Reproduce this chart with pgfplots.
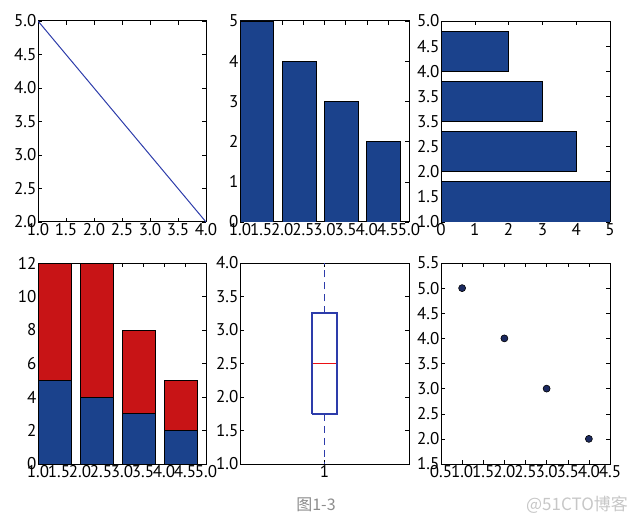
\documentclass[border=0pt]{standalone}
\usepackage{pgfplots}
\pgfplotsset{compat=1.18}
\usepackage{fontspec}
\setmainfont{PT Sans}
\newfontfamily\cjk{Noto Sans CJK SC}
\definecolor{mblue}{RGB}{27,66,140}
\definecolor{medianred}{RGB}{235,15,20}
\definecolor{mline}{RGB}{45,60,170}
\definecolor{mdot}{RGB}{28,42,96}
\pgfplotsset{
  mpl/.style={
    scale only axis, width=168pt, height=201pt, anchor=south west,
    tick align=inside, major tick length=4pt,
    /pgf/number format/assume math mode=true,
    ticklabel style={font=\fontsize{17}{19}\selectfont},
    xticklabel style={inner sep=1pt},
    yticklabel style={inner sep=1.5pt},
    axis line style={line width=1pt},
    every tick/.style={black, line width=0.5pt},
  },
  onedec x/.style={xticklabel style={/pgf/number format/.cd, fixed, fixed zerofill, precision=1}},
  onedec y/.style={yticklabel style={/pgf/number format/.cd, fixed, fixed zerofill, precision=1}},
}
\begin{document}
\begin{tikzpicture}[x=1pt,y=1pt]
\path[use as bounding box] (0,0) rectangle (636,525);
% 1: line
\begin{axis}[mpl, onedec x, onedec y, at={(38pt,303pt)},
  xmin=1, xmax=4, ymin=2, ymax=5, xtick={1,1.5,...,4}, ytick={2,2.5,...,5}]
\addplot[draw=mline, line width=1pt] coordinates {(1,5) (2,4) (3,3) (4,2)};
\end{axis}
% 2: bars
\begin{axis}[mpl, onedec x, at={(240pt,303pt)}, width=169pt,
  xmin=1, xmax=5, ymin=0, ymax=5, xtick={1,1.5,...,5}, ytick={0,1,...,5}]
\addplot[ybar, bar width=0.8, bar shift=0.4, fill=mblue, draw=black, line width=0.7pt]
  coordinates {(1,5) (2,4) (3,3) (4,2)};
\end{axis}
% 3: horizontal bars
\begin{axis}[mpl, at={(441pt,303pt)}, width=169pt,
  xmin=0, xmax=5, ymin=1, ymax=5, xtick={0,1,...,5}, ytick={1,1.5,...,5},
  yticklabels={1.0,1.5,2.0,2.5,3.5,3.5,4.0,4.5,5.0}]
\addplot[xbar, bar width=0.8, bar shift=0.4, fill=mblue, draw=black, line width=0.7pt]
  coordinates {(5,1) (4,2) (3,3) (2,4)};
\end{axis}
% 4: stacked bars
\begin{axis}[mpl, onedec x, at={(38pt,61pt)}, ybar stacked, bar width=0.8, bar shift=0.4,
  xmin=1, xmax=5, ymin=0, ymax=12, xtick={1,1.5,...,5}, ytick={0,2,...,12}]
\addplot[fill=mblue, draw=black, line width=0.7pt] coordinates {(1,5) (2,4) (3,3) (4,2)};
\addplot[fill={rgb,255:red,200;green,20;blue,22}, draw=black, line width=0.7pt] coordinates {(1,7) (2,8) (3,5) (4,3)};
\end{axis}
% 5: boxplot (data 1,2,3,4: whiskers 1 and 4, quartiles 1.75 and 3.25, median 2.5)
\begin{axis}[mpl, onedec y, at={(240pt,61pt)}, width=169pt,
  xmin=0.5, xmax=1.5, ymin=1, ymax=4, xtick={1}, ytick={1,1.5,...,4}]
\addplot[draw=mline, line width=1.6pt] coordinates {(0.925,1.75) (1.075,1.75) (1.075,3.25) (0.925,3.25) (0.925,1.75)};
\addplot[draw=mline, line width=1.4pt, dash pattern=on 7pt off 5pt] coordinates {(1,1.75) (1,1)};
\addplot[draw=mline, line width=1.4pt, dash pattern=on 7pt off 5pt] coordinates {(1,3.25) (1,4)};
\addplot[color=medianred, solid, line width=1.5pt] coordinates {(0.93,2.5) (1.07,2.5)};
\end{axis}
% 6: scatter
\begin{axis}[mpl, onedec x, onedec y, at={(441pt,61pt)}, width=169pt,
  xmin=0.5, xmax=4.5, ymin=1.5, ymax=5.5, xtick={0.5,1,...,4.5}, ytick={1.5,2,...,5.5}]
\addplot[only marks, mark=*, mark size=3.5pt, mark options={fill=mdot, draw=black, line width=0.6pt}]
  coordinates {(1,5) (2,4) (3,3) (4,2)};
\end{axis}
\node[text=black!45, font=\cjk\fontsize{16}{18}\selectfont] at (316,20) {图1-3};
\node[text=black!22, font=\cjk\fontsize{17}{19}\selectfont] at (577,20) {@51CTO博客};
\end{tikzpicture}
\end{document}
